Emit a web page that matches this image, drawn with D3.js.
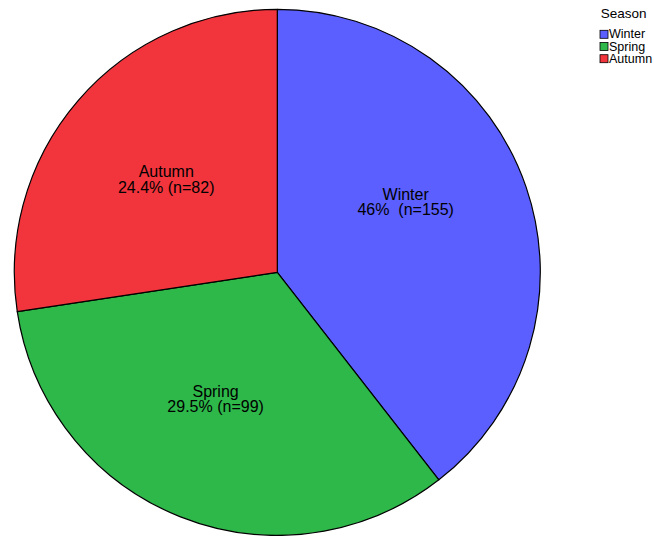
<!DOCTYPE html>
<html>
<head>
<meta charset="utf-8">
<script src="https://cdn.jsdelivr.net/npm/d3@7"></script>
<style>
  html, body { margin: 0; padding: 0; background: #fff; }
  svg { display: block; font-family: "Liberation Sans", Arial, sans-serif; }
</style>
</head>
<body>
<svg id="chart" width="654" height="536"></svg>
<script>
// Categories and data
const categories = ["Winter", "Spring", "Autumn"];
const counts = [155, 99, 82];
const percentLabels = ["46%", "29.5%", "24.4%"];
// Angular size of each slice as drawn in the reference (degrees of arc)
const sliceDegrees = [142.1, 119.3, 98.6];
const colors = ["#5B5FFF", "#2EB84A", "#F2353D"];
const legendTitle = "Season";

// Layout (not data): label nudges from each slice centroid, in px
const labelNudge = [[1.5, -29], [-12, -0.3], [-9.4, -7.4]];

const svg = d3.select("#chart");
const cx = 277.3, cy = 272.3, R = 263;

const pie = d3.pie().sort(null).value(d => d.deg);
const data = categories.map((c, i) => ({ cat: c, deg: sliceDegrees[i], n: counts[i], pct: percentLabels[i], color: colors[i], nudge: labelNudge[i] }));
const arcs = pie(data);
const arc = d3.arc().innerRadius(0).outerRadius(R);

const g = svg.append("g").attr("transform", `translate(${cx},${cy})`);
g.selectAll("path").data(arcs).join("path")
  .attr("d", arc)
  .attr("fill", d => d.data.color)
  .attr("stroke", "#000")
  .attr("stroke-width", 1.2)
  .attr("stroke-linejoin", "round");

// Labels
const labelArc = d3.arc().innerRadius(0).outerRadius(R * 1.02);
const sep = { "Winter": "  ", "Spring": " ", "Autumn": " " };
g.selectAll("text.lbl").data(arcs).join("text")
  .attr("class", "lbl")
  .attr("text-anchor", "middle")
  .attr("font-size", 16)
  .attr("fill", "#000")
  .attr("transform", d => { const c = labelArc.centroid(d); return `translate(${c[0] + d.data.nudge[0]},${c[1] + d.data.nudge[1]})`; })
  .each(function(d) {
    const t = d3.select(this);
    t.append("tspan").attr("x", 0).attr("y", 0).text(d.data.cat);
    t.append("tspan").attr("x", 0).attr("y", 15.3).attr("xml:space", "preserve")
      .text(`${d.data.pct}${sep[d.data.cat]}(n=${d.data.n})`);
  });

// Legend
const lg = svg.append("g").attr("transform", "translate(600,0)");
lg.append("text").attr("x", 0.7).attr("y", 18).attr("font-size", 13.5).attr("fill", "#000").text(legendTitle);
const items = lg.selectAll("g.item").data(data).join("g")
  .attr("class", "item")
  .attr("transform", (d, i) => `translate(0,${30.3 + i * 12.2})`);
items.append("rect").attr("width", 8).attr("height", 8)
  .attr("fill", d => d.color).attr("stroke", "#000").attr("stroke-width", 0.8);
items.append("text").attr("x", 9).attr("y", 8).attr("font-size", 12.5).attr("fill", "#000").text(d => d.cat);
</script>
</body>
</html>
